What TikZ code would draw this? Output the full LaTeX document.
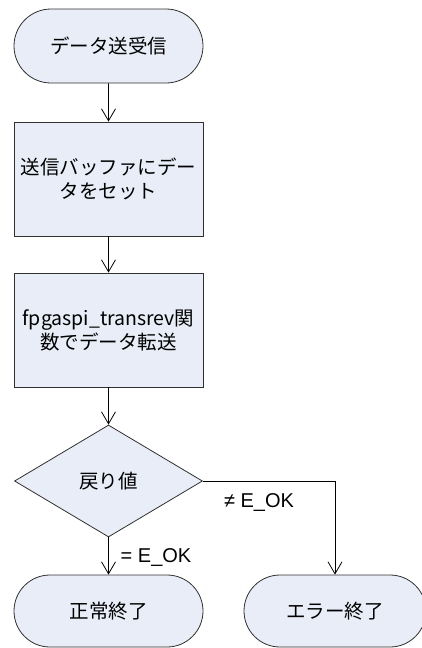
\documentclass[tikz,border=0pt]{standalone}
\usepackage{fontspec}
\setmainfont{Noto Sans CJK JP}
\newfontfamily\lab{Liberation Sans}
\usetikzlibrary{shapes.misc,shapes.geometric,arrows.meta}
\definecolor{boxfill}{HTML}{E8EDF7}
\definecolor{edge}{HTML}{303030}
\tikzset{
  base/.style={draw=edge, fill=boxfill, line width=0.8pt, inner sep=0pt, align=center,
    font=\fontsize{19.5}{24}\selectfont},
  term/.style={base, rounded rectangle, minimum height=74pt},
  proc/.style={base, rectangle, minimum width=189pt, minimum height=114pt},
  dec/.style={base, diamond, minimum width=188pt, minimum height=112pt},
  conn/.style={draw=black, line width=0.8pt, -{Straight Barb[length=12pt,width=14pt,line width=0.8pt]}},
  lbl/.style={font=\lab\fontsize{20}{22}\selectfont, inner sep=0pt}
}
\begin{document}
\begin{tikzpicture}[x=1pt,y=1pt]
\useasboundingbox (0,0) rectangle (422,-648);
\node[term, minimum width=189pt] (start) at (108.5,-46) {データ送受信};
\node[proc] (p1) at (108.5,-179) {送信バッファにデー\\タをセット};
\node[proc] (p2) at (108.5,-330) {fpgaspi\_transrev関\\数でデータ転送};
\node[dec] (d) at (108.5,-481) {戻り値};
\node[term, minimum width=189pt, minimum height=72pt] (ok) at (108.5,-611) {正常終了};
\node[term, minimum width=182pt, minimum height=72pt] (err) at (335,-611) {エラー終了};
\draw[conn] (start) -- (p1);
\draw[conn] (p1) -- (p2);
\draw[conn] (p2) -- (d);
\draw[conn] (d) -- (ok);
\draw[conn] (d.east) -| (err.north);
\node[lbl] (ne) at (259,-502) {≠ E\_OK};
\node[lbl] (eq) at (156,-557) {= E\_OK};
\end{tikzpicture}
\end{document}
